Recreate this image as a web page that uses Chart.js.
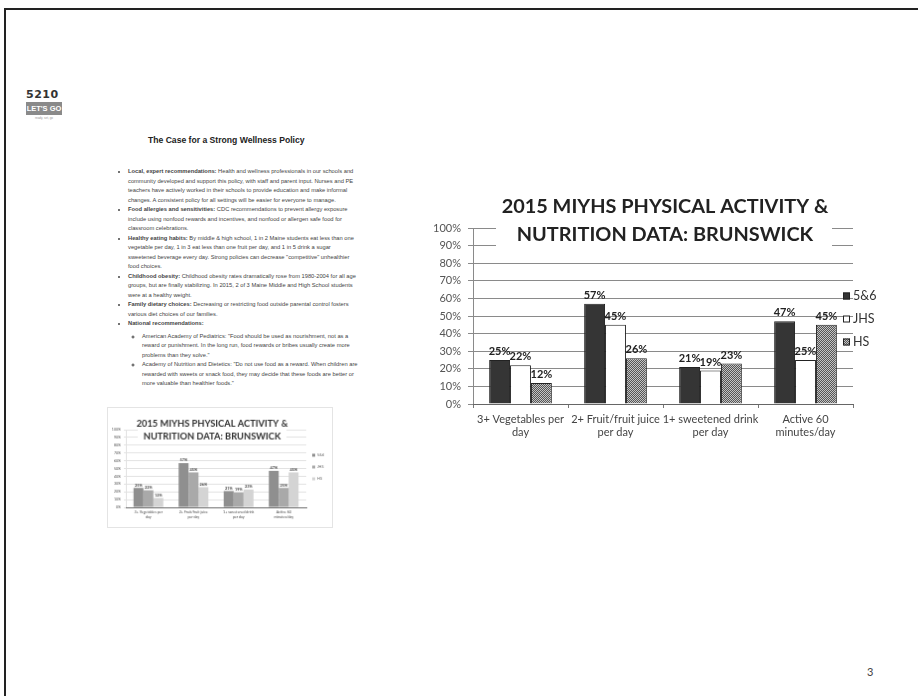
<!DOCTYPE html>
<html>
<head>
<meta charset="utf-8">
<script src="https://cdn.jsdelivr.net/npm/chart.js@4.4.1/dist/chart.umd.min.js"></script>
<style>
    body { margin: 0; width: 918px; height: 696px; background: #fff; position: relative; overflow: hidden; font-family: "Liberation Sans", Arial, sans-serif; }
    .frame-top { position: absolute; left: 4px; top: 8px; right: 0; height: 2px; background: #222; }
    .frame-left { position: absolute; left: 4px; top: 8px; bottom: 0; width: 2px; background: #222; }
    .logo { position: absolute; left: 26px; top: 88px; width: 36px; }
    .logo .nums { font: bold 11px/14px "DejaVu Sans", sans-serif; color: #333; letter-spacing: 0.5px; }
    .logo .band { background: #8a8a8a; color: #fff; font: bold 7.5px/13px Arial, sans-serif; text-align: center; }
    .logo .tag { font: 3px/4px Arial, sans-serif; color: #999; text-align: center; margin-top: 1px; }
    .doc-title { position: absolute; left: 148px; top: 135px; font: bold 8.6px/11px Arial, sans-serif; color: #222; }
    .doc { position: absolute; left: 116px; top: 167px; width: 230px; margin: 0; padding: 0 0 0 12px; font: 5.75px/9.5px Arial, sans-serif; color: #444; }
    .doc li { margin: 0; }
    .doc ul { margin: 3px 0 0 0; padding-left: 14px; list-style: circle; }
    .mini { position: absolute; left: 107px; top: 407px; border: 1px solid #e4e4e4; }
    .main { position: absolute; left: 430px; top: 185px; }
    .page-no { position: absolute; left: 867px; top: 665px; font: 11px Lato, sans-serif; color: #444; }
</style>
</head>
<body>
<div class="frame-top"></div>
<div class="frame-left"></div>

<div class="logo">
    <div class="nums">5210</div>
    <div class="band">LET'S GO</div>
    <div class="tag">ready, set, go</div>
</div>
<div class="doc-title">The Case for a Strong Wellness Policy</div>
<ul class="doc">
    <li><b>Local, expert recommendations:</b> Health and wellness professionals in our schools and community developed and support this policy, with staff and parent input. Nurses and PE teachers have actively worked in their schools to provide education and make informal changes. A consistent policy for all settings will be easier for everyone to manage.</li>
    <li><b>Food allergies and sensitivities:</b> CDC recommendations to prevent allergy exposure include using nonfood rewards and incentives, and nonfood or allergen safe food for classroom celebrations.</li>
    <li><b>Healthy eating habits:</b> By middle &amp; high school, 1 in 2 Maine students eat less than one vegetable per day, 1 in 3 eat less than one fruit per day, and 1 in 5 drink a sugar sweetened beverage every day. Strong policies can decrease "competitive" unhealthier food choices.</li>
    <li><b>Childhood obesity:</b> Childhood obesity rates dramatically rose from 1980-2004 for all age groups, but are finally stabilizing. In 2015, 2 of 3 Maine Middle and High School students were at a healthy weight.</li>
    <li><b>Family dietary choices:</b> Decreasing or restricting food outside parental control fosters various diet choices of our families.</li>
    <li><b>National recommendations:</b>
        <ul>
            <li>American Academy of Pediatrics: "Food should be used as nourishment, not as a reward or punishment. In the long run, food rewards or bribes usually create more problems than they solve."</li>
            <li>Academy of Nutrition and Dietetics: "Do not use food as a reward. When children are rewarded with sweets or snack food, they may decide that these foods are better or more valuable than healthier foods."</li>
        </ul>
    </li>
</ul>

<canvas id="mini" class="mini" width="226" height="121"></canvas>
<canvas id="main" class="main" width="460" height="270"></canvas>
<div class="page-no">3</div>

<script>
// chart data
const CATEGORIES = [['3+ Vegetables per', 'day'], ['2+ Fruit/fruit juice', 'per day'], ['1+ sweetened drink', 'per day'], ['Active 60', 'minutes/day']];
const SERIES = ['5&6', 'JHS', 'HS'];
const GRADE_56 = [25, 57, 21, 47];
const GRADE_JHS = [22, 45, 19, 25];
const GRADE_HS = [12, 26, 23, 45];
const Y_TICKS = [0, 10, 20, 30, 40, 50, 60, 70, 80, 90, 100];
const TITLE = ['2015 MIYHS PHYSICAL ACTIVITY &', 'NUTRITION DATA: BRUNSWICK'];

Chart.defaults.font.family = 'Lato';

function hatch() {
    const c = document.createElement('canvas');
    c.width = c.height = 2;
    const g = c.getContext('2d');
    g.fillStyle = '#c4c4c4'; g.fillRect(0, 0, 2, 2);
    g.fillStyle = '#555'; g.fillRect(0, 0, 1, 1); g.fillRect(1, 1, 1, 1);
    return g.createPattern(c, 'repeat');
}

// title box drawn over the top of the plot, like the slide's text box
const slideTitle = {
    id: 'slideTitle',
    afterDraw(chart, args, o) {
        const ctx = chart.ctx;
        ctx.save();
        ctx.font = 'bold 100px Lato';
        const size = 100 * o.fit / ctx.measureText(TITLE[0]).width;
        ctx.fillStyle = '#fff';
        ctx.fillRect(o.box[0], o.box[1], o.box[2], o.box[3]);
        ctx.font = `bold ${size}px Lato`;
        ctx.fillStyle = o.color;
        ctx.textAlign = 'center';
        ctx.textBaseline = 'middle';
        TITLE.forEach((t, i) => ctx.fillText(t, o.x, o.ys[i]));
        ctx.restore();
    },
};

const valueLabels = {
    id: 'valueLabels',
    afterDatasetsDraw(chart, args, o) {
        const ctx = chart.ctx;
        ctx.save();
        ctx.font = `bold ${o.size}px Lato`;
        ctx.fillStyle = o.color;
        ctx.textAlign = 'center';
        ctx.textBaseline = 'bottom';
        chart.data.datasets.forEach((ds, di) => {
            chart.getDatasetMeta(di).data.forEach((bar, i) => ctx.fillText(ds.data[i] + '%', bar.x, bar.y - o.gap));
        });
        ctx.restore();
    },
};

const sideLegend = {
    id: 'sideLegend',
    afterDraw(chart, args, o) {
        const ctx = chart.ctx;
        ctx.save();
        ctx.font = `${o.size}px Lato`;
        ctx.textBaseline = 'middle';
        chart.data.datasets.forEach((ds, i) => {
            const y = o.y + i * o.dy;
            ctx.fillStyle = ds.backgroundColor;
            ctx.fillRect(o.x, y - o.box / 2, o.box, o.box);
            if (o.stroke) { ctx.strokeStyle = o.stroke; ctx.lineWidth = 1; ctx.strokeRect(o.x + 0.5, y - o.box / 2 + 0.5, o.box - 1, o.box - 1); }
            ctx.fillStyle = o.color;
            ctx.fillText(ds.label, o.x + o.box + o.gap, y);
        });
        ctx.restore();
    },
};

function makeChart(el, g) {
    return new Chart(el, {
        type: 'bar',
        data: {
            labels: CATEGORIES,
            datasets: [
                { label: SERIES[0], data: GRADE_56, backgroundColor: g.colors[0] },
                { label: SERIES[1], data: GRADE_JHS, backgroundColor: g.colors[1] },
                { label: SERIES[2], data: GRADE_HS, backgroundColor: g.colors[2] },
            ].map((d) => ({ ...d, borderColor: g.border, borderWidth: g.bw, categoryPercentage: 0.66, barPercentage: 1 })),
        },
        options: {
            responsive: false, animation: false, events: [],
            layout: { padding: { top: g.top, right: g.right, left: 0, bottom: 0 } },
            plugins: {
                legend: { display: false }, tooltip: { enabled: false },
                slideTitle: g.title, valueLabels: g.values, sideLegend: g.legend,
            },
            scales: {
                y: {
                    min: 0, max: 100,
                    afterBuildTicks: (s) => { s.ticks = Y_TICKS.map((v) => ({ value: v })); },
                    afterFit: (s) => { s.width = g.yWidth; },
                    ticks: { callback: (v) => v + '%', font: { size: g.tick }, color: '#555', padding: g.yPad },
                    grid: { color: g.grid, tickLength: g.tickLen },
                    border: { color: g.grid },
                },
                x: {
                    afterFit: (s) => { s.height = g.xHeight; },
                    ticks: { font: { size: g.tick }, color: '#444', padding: g.xPad, maxRotation: 0, autoSkip: false },
                    grid: { drawOnChartArea: false, offset: true, tickLength: g.tickLen - 1, color: '#777' },
                    border: { color: '#666' },
                },
            },
        },
        plugins: [slideTitle, valueLabels, sideLegend],
    });
}

makeChart(document.getElementById('main'), {
    colors: ['#353535', '#ffffff', hatch()], border: '#222', bw: 1,
    top: 43, right: 37, yWidth: 43, xHeight: 51, tick: 11, yPad: 7, xPad: 5, tickLen: 5, grid: '#8a8a8a',
    title: { fit: 327, x: 235, ys: [22, 50], box: [66, 0, 336, 64], color: '#222' },
    values: { size: 11, gap: 3, color: '#222' },
    legend: { x: 413, y: 111, dy: 23, box: 7, gap: 3, size: 12.5, color: '#333', stroke: '#222' },
});

makeChart(document.getElementById('mini'), {
    colors: ['#8f8f8f', '#a9a9a9', '#d4d4d4'], border: '#fff', bw: 0,
    top: 22, right: 26, yWidth: 18, xHeight: 20, tick: 3.6, yPad: 3, xPad: 2, tickLen: 2, grid: '#e2e2e2',
    title: { fit: 153, x: 105, ys: [16, 29], box: [30, 8, 150, 28], color: '#333' },
    values: { size: 3.8, gap: 1, color: '#444' },
    legend: { x: 206, y: 48, dy: 12, box: 3, gap: 2, size: 3.8, color: '#666', stroke: null },
});
</script>
</body>
</html>
